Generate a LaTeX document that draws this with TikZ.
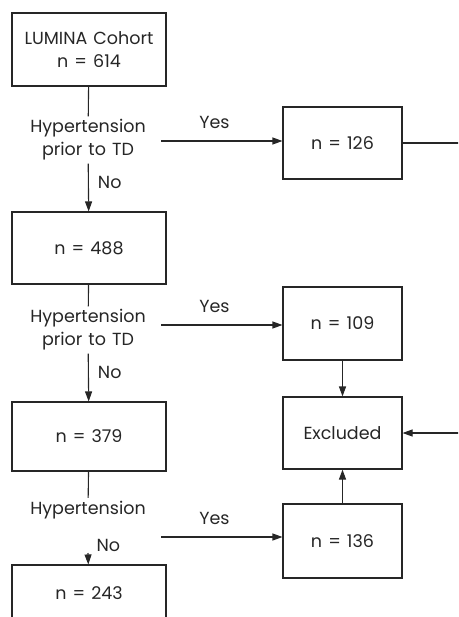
\documentclass[tikz,border=0pt]{standalone}
\usepackage{fontspec}
\setmainfont[WordSpace=1.3]{Poppins}
\usepackage{tikz}
\usetikzlibrary{arrows.meta, positioning, calc}

\begin{document}
\begin{tikzpicture}[x=1pt, y=-1pt, black!85,
    font=\fontsize{17.5}{23}\selectfont,
    box/.style={draw, line width=1.1pt, minimum width=154pt, minimum height=72pt, align=center, inner sep=2pt},
    smallbox/.style={box, minimum width=119pt},
    quest/.style={align=center, inner sep=3pt},
    ln/.style={line width=1.1pt},
    arr/.style={line width=1.1pt, -{Triangle[length=10pt, width=7pt]}},
    yes/.style={above=10pt, inner sep=2pt},
    no/.style={right=7pt, inner sep=2pt}]
    \clip (0,0) rectangle (458,617);

    % Primo livello
    \node[box, minimum height=73pt] (coorte) at (89,49.5) {LUMINA Cohort\\n = 614};
    \node[quest] (q1) at (88,140) {Hypertension\\prior to TD};
    \node[smallbox] (b126) at (342.5,143) {n = 126};
    \coordinate (s1) at (161,141);
    \coordinate (bordo) at (460,0);

    % Secondo livello
    \node[box] (b488) at (89,248) {n = 488};
    \node[quest] (q2) at (88,330) {Hypertension\\prior to TD};
    \node[smallbox, minimum height=73pt] (b109) at (342.5,323.5) {n = 109};
    \node[smallbox] (escl) at (342.5,433) {Excluded};
    \coordinate (s2) at (161,325);

    % Terzo livello
    \node[box, minimum height=69pt] (b379) at (89,436.5) {n = 379};
    \node[quest] (q3) at (88,510) {Hypertension};
    \node[smallbox, minimum height=74pt] (b136) at (342.5,541) {n = 136};
    \node[box, minimum height=56pt] (b243) at (89,593) {n = 243};
    \coordinate (s3) at (161,537);
    \coordinate (q3no) at (88,553);

    % Collegamenti
    \draw[ln] (coorte) -- (q1);
    \draw[arr] (q1) -- (b488) node[no, pos=0.4] {No};
    \draw[arr] (s1) -- (s1 -| b126.west) node[yes, pos=0.44] {Yes};
    \draw[ln] (b126.east) -- (b126.east -| bordo);

    \draw[ln] (b488) -- (q2);
    \draw[arr] (q2) -- (b379) node[no, pos=0.4] {No};
    \draw[arr] (s2) -- (s2 -| b109.west) node[yes, pos=0.44] {Yes};
    \draw[arr] (b109) -- (escl);
    \draw[arr] (escl.east -| bordo) -- (escl.east);

    \draw[ln] (b379) -- (q3);
    \draw[arr] (q3no) -- (b243) node[pos=0, anchor=south west, xshift=7pt, inner sep=1pt] {No};
    \draw[arr] (s3) -- (s3 -| b136.west) node[yes, pos=0.44] {Yes};
    \draw[arr] (b136) -- (escl);
\end{tikzpicture}
\end{document}
